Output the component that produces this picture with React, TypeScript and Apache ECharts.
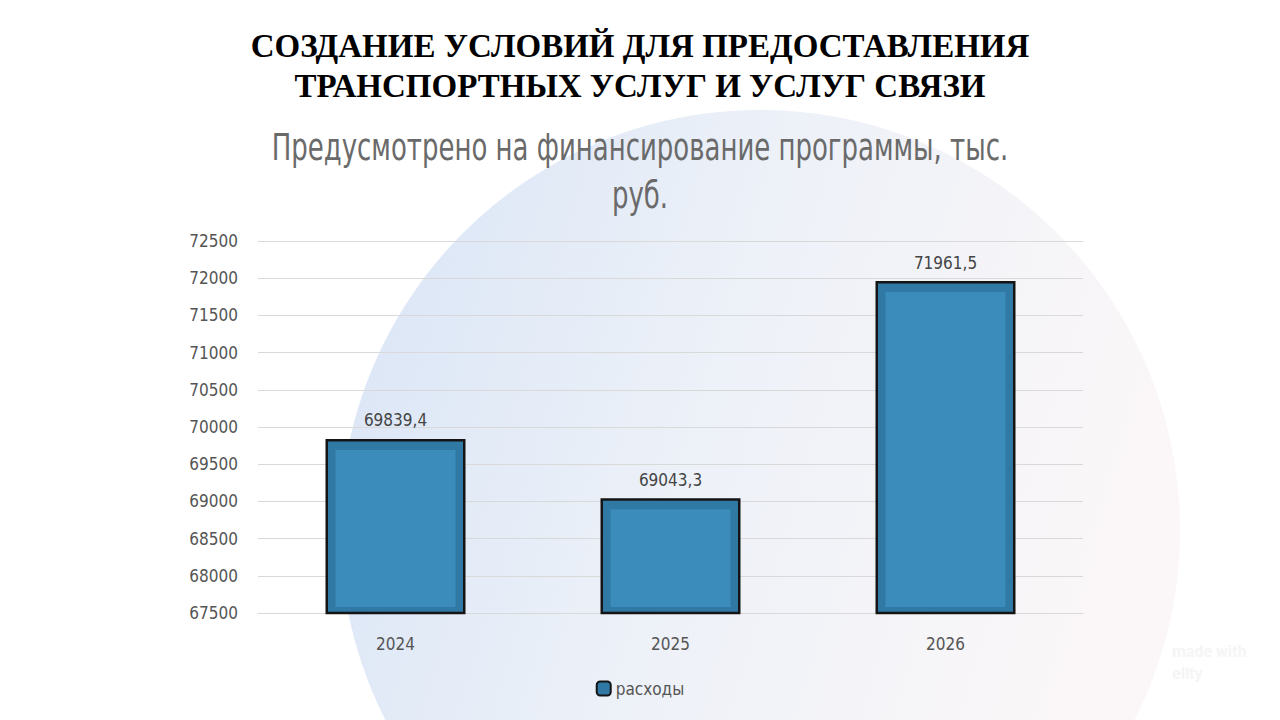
import React, { useEffect, useRef } from "react";
import * as echarts from "echarts";

const categories = ["2024", "2025", "2026"];
const expenses = [69839.4, 69043.3, 71961.5];
const seriesName = "расходы";
const titleLines = ["СОЗДАНИЕ УСЛОВИЙ ДЛЯ ПРЕДОСТАВЛЕНИЯ", "ТРАНСПОРТНЫХ УСЛУГ И УСЛУГ СВЯЗИ"];
const subtitleLines = ["Предусмотрено на финансирование программы, тыс.", "руб."];
const yMin = 67500;
const yMax = 72500;
const yStep = 500;

const condensed = "'Liberation Sans Narrow', 'DejaVu Sans Condensed', 'Roboto Condensed', Roboto, sans-serif";

export default function App() {
  const ref = useRef<HTMLDivElement>(null);
  useEffect(() => {
    if (!ref.current) return;
    const chart = echarts.init(ref.current, null, { renderer: "svg" });
    chart.setOption({
      animation: false,
      backgroundColor: "#ffffff",
      graphic: [
        {
          type: "circle",
          z: -10,
          shape: { cx: 760, cy: 530, r: 420 },
          style: {
            fill: new echarts.graphic.LinearGradient(0, 0, 1, 0.3, [
              { offset: 0, color: "#d8e4f6" },
              { offset: 0.5, color: "#edf1f8" },
              { offset: 1, color: "#fbf7f8" },
            ]),
          },
          silent: true,
        },
        {
          type: "text",
          x: 640,
          y: 26,
          style: {
            text: titleLines.join("\n"),
            font: "bold 33px 'Liberation Serif', 'Times New Roman', serif",
            fill: "#000000",
            textAlign: "center",
            lineHeight: 40,
          },
        },
        {
          type: "text",
          x: 640,
          y: 123,
          scaleX: 0.76,
          style: {
            text: subtitleLines.join("\n"),
            fontFamily: condensed,
            fontSize: 38,
            fill: "#6a6a6a",
            textAlign: "center",
            lineHeight: 48,
          },
        },
        {
          type: "text",
          x: 1172,
          y: 640,
          style: {
            text: "made with\nellty",
            font: "bold 16px Roboto, sans-serif",
            fill: "#f5f5f5",
            lineHeight: 22,
          },
        },
      ],
      legend: {
        show: true,
        bottom: 18,
        left: "center",
        data: [seriesName],
        icon: "roundRect",
        itemWidth: 14,
        itemHeight: 14,
        itemGap: 5,
        textStyle: { fontFamily: condensed, fontSize: 17, color: "#555555" },
      },
      grid: { left: 258, right: 197, top: 241, bottom: 107, containLabel: false },
      xAxis: {
        type: "category",
        data: categories,
        axisLine: { show: true, lineStyle: { color: "#d9d9d9" } },
        axisTick: { show: false },
        axisLabel: { fontFamily: condensed, fontSize: 17, color: "#555555", margin: 22 },
      },
      yAxis: {
        type: "value",
        min: yMin,
        max: yMax,
        interval: yStep,
        axisLine: { show: false },
        axisTick: { show: false },
        splitLine: { lineStyle: { color: "#d9d9d9", width: 1 } },
        axisLabel: {
          fontFamily: condensed,
          fontSize: 17,
          color: "#555555",
          margin: 20,
          formatter: (v: number) => String(v),
        },
      },
      series: [
        {
          name: seriesName,
          type: "bar",
          data: expenses,
          barWidth: 140,
          itemStyle: { color: "#2f79a4", borderColor: "#141414", borderWidth: 2.5 },
          label: {
            show: true,
            position: "top",
            distance: 10,
            fontFamily: condensed,
            fontSize: 17,
            color: "#444444",
            formatter: (p: any) => String(p.value).replace(".", ","),
          },
        },
        {
          name: "inner",
          type: "custom",
          silent: true,
          z: 3,
          data: expenses.map((v, i) => [i, v]),
          renderItem: (params: any, api: any) => {
            const top = api.coord([api.value(0), api.value(1)]);
            const bottom = api.coord([api.value(0), yMin]);
            const w = 140 - 20;
            return {
              type: "rect",
              shape: { x: top[0] - w / 2, y: top[1] + 11, width: w, height: bottom[1] - top[1] - 17 },
              style: { fill: "#3b8cbb" },
            };
          },
        },
      ],
    });
    return () => chart.dispose();
  }, []);
  return <div ref={ref} style={{ position: "fixed", left: 0, top: 0, width: 1280, height: 720 }} />;
}
